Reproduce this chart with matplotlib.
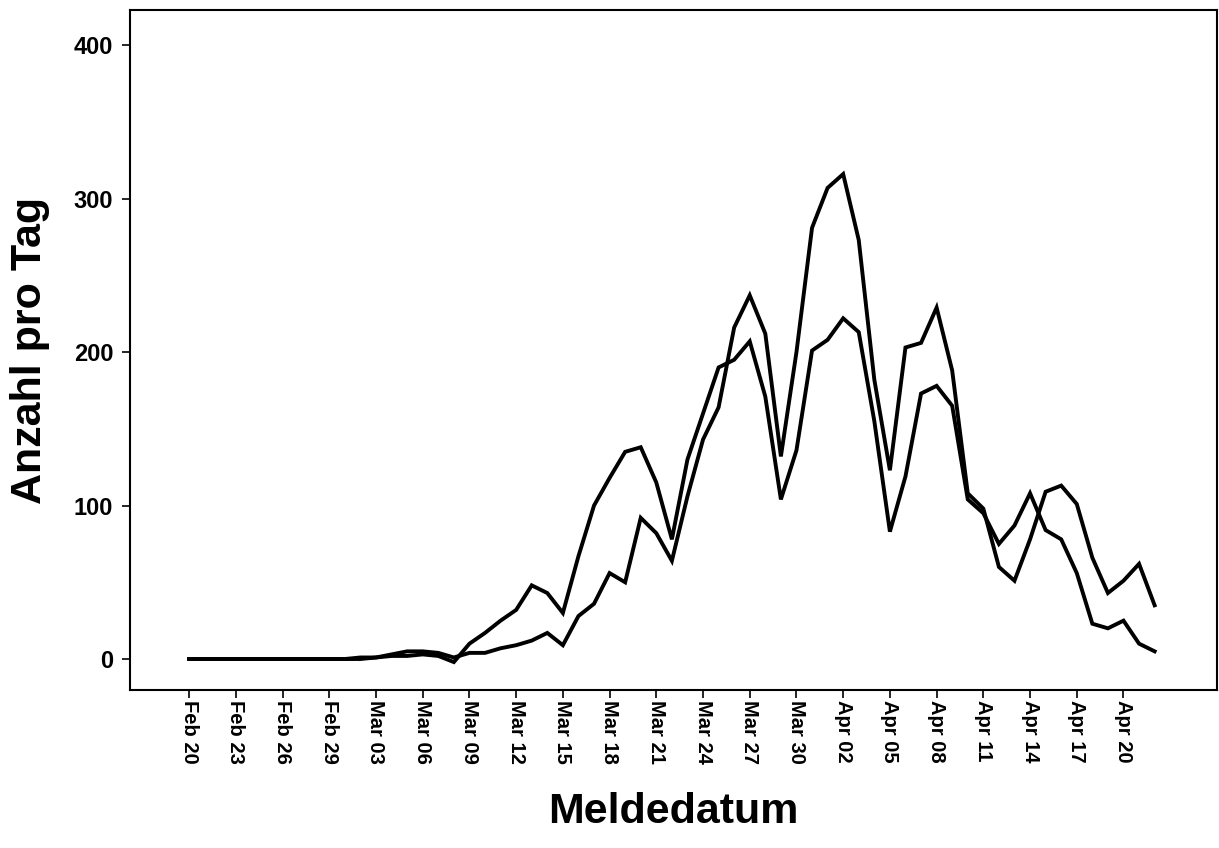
import matplotlib
matplotlib.use("Agg")
import matplotlib.pyplot as plt

# day index 0 = Feb 20 (2020), last = Apr 22
days = list(range(63))

series_a = [0, 0, 0, 0, 0, 0, 0, 0, 0, 0, 0, 0, 1,
            2, 2, 3, 2, -2, 10, 17, 25, 32, 48, 43, 30, 67, 100,
            118, 135, 138, 115, 78, 130, 160, 190, 195, 207, 171, 104,
            136, 201, 208, 222, 213, 155, 83, 119, 173, 178, 165, 104,
            95, 75, 87, 108, 84, 78, 56, 23, 20, 25, 10, 5]

series_b = [0, 0, 0, 0, 0, 0, 0, 0, 0, 0, 0, 1, 1,
            3, 5, 5, 4, 1, 4, 4, 7, 9, 12, 17, 9, 28, 36,
            56, 50, 92, 82, 64, 106, 143, 164, 216, 237, 212, 132,
            200, 281, 307, 316, 273, 182, 123, 203, 206, 229, 188, 108,
            98, 60, 51, 78, 109, 113, 101, 66, 43, 51, 62, 35]

tick_days = list(range(0, 61, 3))
tick_labels = ["Feb 20", "Feb 23", "Feb 26", "Feb 29", "Mar 03", "Mar 06",
               "Mar 09", "Mar 12", "Mar 15", "Mar 18", "Mar 21", "Mar 24",
               "Mar 27", "Mar 30", "Apr 02", "Apr 05", "Apr 08", "Apr 11",
               "Apr 14", "Apr 17", "Apr 20"]
y_ticks = [0, 100, 200, 300, 400]

plt.rcParams['font.family'] = ['Liberation Sans', 'DejaVu Sans']
plt.rcParams['font.weight'] = 'bold'

fig = plt.figure(figsize=(12.19, 8.48), dpi=100)
ax = fig.add_axes([0.1066, 0.1863, 0.8917, 0.8017])

ax.plot(days, series_a, color='black', lw=2.8, solid_joinstyle='miter')
ax.plot(days, series_b, color='black', lw=2.8, solid_joinstyle='miter')

ax.set_xlim(-3.8, 66.0)
ax.set_ylim(-20.2, 422.8)
ax.set_xticks(tick_days)
ax.set_xticklabels(tick_labels, rotation=-90, fontsize=14.5, fontweight='bold')
ax.set_yticks(y_ticks)
ax.set_yticklabels([str(v) for v in y_ticks], fontsize=17, fontweight='bold')
ax.tick_params(axis='x', direction='out', length=6, width=1.2, color='black', pad=1)
ax.tick_params(axis='y', direction='out', length=6, width=1.2, color='black', pad=6)
for s in ax.spines.values():
    s.set_linewidth(1.5)
    s.set_color('black')

ax.set_xlabel("Meldedatum", fontsize=31, fontweight='bold', labelpad=20)
ax.set_ylabel("Anzahl pro Tag", fontsize=31, fontweight='bold', labelpad=17)

fig.savefig("out.png", dpi=100)
